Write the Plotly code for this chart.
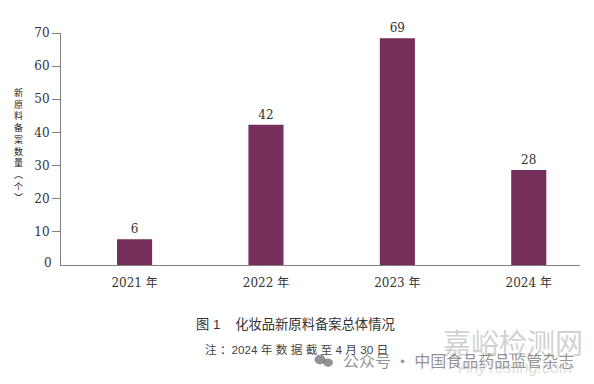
import plotly.graph_objects as go

categories = ["2021 年", "2022 年", "2023 年", "2024 年"]
bar_heights = [7.8, 42.3, 68.4, 28.7]
value_labels = ["6", "42", "69", "28"]
y_ticks = [10, 20, 30, 40, 50, 60, 70]
y_title = "新原料备案数量︵个︶"
BELOW = 0.4
SERIF = "DejaVu Serif, Liberation Serif, serif"
CJK = "Noto Sans CJK SC"
FONT = SERIF + ", " + CJK

fig = go.Figure(go.Bar(
    x=categories, y=[v + BELOW for v in bar_heights], base=-BELOW,
    width=0.267, marker=dict(color="#752f5a", line=dict(width=0)),
    text=value_labels, textposition="outside", cliponaxis=False,
    textfont=dict(family=FONT, size=12, color="#333333"),
))

W, H = 594, 384
PAGE = 8  # the page's own body margin
L, R, T, B = 61, 580, 33.4, 265.4

fig.update_layout(
    width=W - PAGE, height=H - PAGE, autosize=False, showlegend=False,
    paper_bgcolor="white", plot_bgcolor="white",
    margin=dict(l=L - PAGE, r=W - R, t=T - PAGE, b=H - B, pad=0),
    xaxis=dict(range=[-0.56, 3.39], showgrid=False, showline=True, linecolor="#808080", linewidth=1,
               ticks="", ticklabelstandoff=7, tickfont=dict(family=FONT, size=12, color="#333333")),
    yaxis=dict(range=[0, 70], tickvals=y_ticks, showgrid=False, zeroline=False, showline=True,
               linecolor="#808080", linewidth=1, ticks="outside", ticklen=8, tickcolor="#808080",
               tickwidth=1, tickfont=dict(family=FONT, size=12, color="#333333")),
)

def to_paper(px, py):
    return (px - L) / (R - L), (B - py) / (B - T)

annotations = []
def text_at(text, px, py, size, color="#333333", family=FONT, xanchor="center"):
    x, y = to_paper(px, py)
    annotations.append(dict(text=text, x=x, y=y, xref="paper", yref="paper", showarrow=False,
                            xanchor=xanchor, yanchor="middle",
                            font=dict(size=size, color=color, family=family)))

text_at("0", 48, 263, 12)
text_at("<br>".join(y_title), 18, 145, 9, family=CJK, color="#222222")
text_at("图 1    化妆品新原料备案总体情况", 295.5, 324, 13.3, family="Liberation Sans, " + CJK)
text_at("注 ：2024 年 数 据 截 至 4 月 30 日", 296, 350, 11.7, family="Liberation Sans, " + CJK, color="#444444")
text_at("嘉峪检测网", 513, 342, 28, color="rgba(170,170,170,0.55)", family=CJK)
text_at("公众号 · 中国食品药品监管杂志", 458, 360, 16, color="rgba(110,110,110,0.75)", family=CJK)
text_at("<i>AnyTesting.com</i>", 515, 368, 16, color="rgba(190,190,190,0.5)", family="Liberation Sans")

shapes = []
def ellipse(cx, cy, rx, ry, color):
    x, y = to_paper(cx, cy)
    rxp, ryp = rx / (R - L), ry / (B - T)
    shapes.append(dict(type="circle", xref="paper", yref="paper", x0=x - rxp, x1=x + rxp,
                       y0=y - ryp, y1=y + ryp, fillcolor=color, line=dict(width=0)))
ellipse(320, 360, 5.5, 4.8, "rgba(120,120,120,0.8)")
ellipse(328, 363, 5, 4.2, "rgba(120,120,120,0.8)")

fig.update_layout(annotations=annotations, shapes=shapes)
fig.write_html("out.html")
